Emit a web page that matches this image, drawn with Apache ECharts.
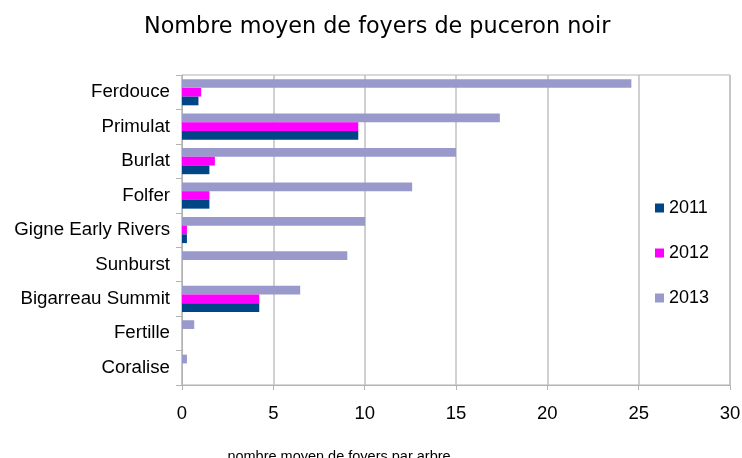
<!DOCTYPE html>
<html><head><meta charset="utf-8">
<script src="https://cdn.jsdelivr.net/npm/echarts@6/dist/echarts.min.js"></script>
<style>html,body{margin:0;padding:0;background:#fff}#c{width:742px;height:458px}</style>
</head><body><div id="c"></div>
<script>
const categories = ["Ferdouce","Primulat","Burlat","Folfer","Gigne Early Rivers","Sunburst","Bigarreau Summit","Fertille","Coralise"];
const years = ["2011","2012","2013"];
const values2011 = [0.9, 9.65, 1.5, 1.5, 0.27, 0, 4.23, 0, 0];
const values2012 = [1.05, 9.65, 1.8, 1.5, 0.27, 0, 4.23, 0, 0];
const values2013 = [24.6, 17.4, 15.0, 12.6, 10.03, 9.05, 6.47, 0.67, 0.27];
const colors = ["#004586", "#ff00ff", "#9999cc"];
const font = "Liberation Sans, Arial, sans-serif";
const chart = echarts.init(document.getElementById('c'));
const seriesData = {"2011": values2011, "2012": values2012, "2013": values2013};
chart.setOption({
  animation: false,
  title: {text: "Nombre moyen de foyers de puceron noir", left: 139, top: 11,
    textStyle: {fontFamily: "DejaVu Sans, sans-serif", fontSize: 22.3, fontWeight: 'normal', color: '#000'}},
  legend: {orient: 'vertical', left: 650, top: 194, itemWidth: 9, itemHeight: 9, itemGap: 27,
    data: years, textStyle: {fontFamily: font, fontSize: 18, color: '#000', lineHeight: 18}, icon: 'rect'},
  grid: {left: 182, right: 12, top: 75, bottom: 73, outerBoundsMode: 'none', containLabel: false,
    show: true, borderColor: '#b3b3b3', borderWidth: 1},
  xAxis: {type: 'value', min: 0, max: 30, interval: 5,
    name: "nombre moyen de foyers par arbre", nameLocation: 'middle', nameGap: 64,
    nameTextStyle: {fontFamily: font, fontSize: 14.5, color: '#000', padding: [0, 0, 0, -234]},
    axisLine: {show: true, lineStyle: {color: '#b3b3b3'}},
    axisTick: {show: true, length: 5, lineStyle: {color: '#b3b3b3'}},
    axisLabel: {fontFamily: font, fontSize: 18.5, color: '#000', margin: 19},
    splitLine: {show: true, lineStyle: {color: '#c0c0c0', width: 1.5}}},
  yAxis: {type: 'category', data: categories, inverse: true,
    axisLine: {show: true, lineStyle: {color: '#b3b3b3'}},
    axisTick: {show: true, length: 6, lineStyle: {color: '#b3b3b3'}},
    axisLabel: {fontFamily: font, fontSize: 18.7, color: '#000', margin: 12}},
  series: ["2013","2012","2011"].map(y => ({
    name: y, type: 'bar', data: seriesData[y], barGap: '0%', barCategoryGap: '24%',
    itemStyle: {color: colors[years.indexOf(y)]}
  }))
});
</script></body></html>
